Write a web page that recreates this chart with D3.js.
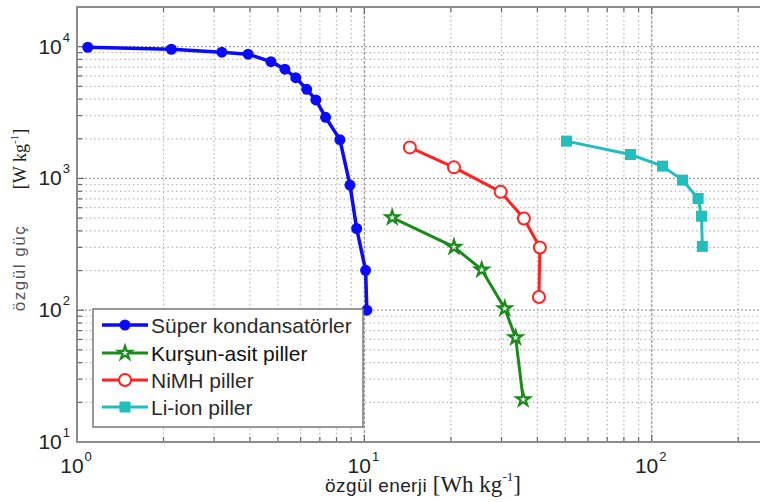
<!DOCTYPE html>
<html>
<head>
<meta charset="utf-8">
<script src="https://cdn.jsdelivr.net/npm/d3@7/dist/d3.min.js"></script>
<style>
  html, body { margin: 0; padding: 0; background: #fff; }
  svg { display: block; }
</style>
</head>
<body>
<div id="chart"></div>
<script>
// Ragone plot: specific power vs specific energy (log-log)
var seriesNames = ["Süper kondansatörler", "Kurşun-asit piller", "NiMH piller", "Li-ion piller"];

var superEnergy = [1.09, 2.13, 3.19, 3.94, 4.73, 5.29, 5.77, 6.30, 6.78, 7.33, 8.22, 8.91, 9.40, 10.1, 10.2];
var superPower  = [9900, 9560, 9080, 8770, 7700, 6750, 5820, 4750, 3940, 2910, 1970, 890, 417, 201, 100];

var leadEnergy = [12.5, 20.5, 25.6, 30.8, 33.6, 35.7];
var leadPower  = [505, 302, 203, 103, 62, 21];

var nimhEnergy = [14.4, 20.5, 29.8, 35.9, 40.8, 40.5];
var nimhPower  = [1720, 1214, 791, 496, 299, 126];

var liEnergy = [50.5, 84.3, 109, 128, 145, 149, 150];
var liPower  = [1920, 1520, 1240, 971, 705, 517, 305];

var xDecades = [1, 10, 100];
var yDecades = [10, 100, 1000, 10000];

var width = 760, height = 502;
// note: "top" is a read-only window property, so use a margin object
var box = { left: 77, right: 761, top: 7, bottom: 442 };

var x = d3.scaleLog().domain([1, 240]).range([box.left, box.right]);
var y = d3.scaleLog().domain([10, 20000]).range([box.bottom, box.top]);

var svg = d3.select("#chart").append("svg")
    .attr("width", width)
    .attr("height", height)
    .style("font-family", "'Liberation Sans', Arial, sans-serif");

// minor / major tick values
var xMinor = [], yMinor = [];
xDecades.forEach(function (d) {
    for (var k = 2; k <= 9; k++) if (d * k < 240) xMinor.push(d * k);
});
yDecades.forEach(function (d) {
    for (var k = 2; k <= 9; k++) if (d * k < 20000) yMinor.push(d * k);
});

var grid = svg.append("g").attr("class", "grid");

grid.selectAll("line.xminor").data(xMinor).enter().append("line")
    .attr("x1", function (d) { return x(d); })
    .attr("x2", function (d) { return x(d); })
    .attr("y1", box.top).attr("y2", box.bottom)
    .attr("stroke", "#b5b5b5").attr("stroke-width", 1.2)
    .attr("stroke-dasharray", "1.5,2.8");

grid.selectAll("line.yminor").data(yMinor).enter().append("line")
    .attr("y1", function (d) { return y(d); })
    .attr("y2", function (d) { return y(d); })
    .attr("x1", box.left).attr("x2", box.right)
    .attr("stroke", "#b5b5b5").attr("stroke-width", 1.2)
    .attr("stroke-dasharray", "1.5,2.8");

grid.selectAll("line.xmajor").data(xDecades.slice(1)).enter().append("line")
    .attr("x1", function (d) { return x(d); })
    .attr("x2", function (d) { return x(d); })
    .attr("y1", box.top).attr("y2", box.bottom)
    .attr("stroke", "#9a9a9a").attr("stroke-width", 1.3)
    .attr("stroke-dasharray", "3,1.5");

grid.selectAll("line.ymajor").data(yDecades.slice(1)).enter().append("line")
    .attr("y1", function (d) { return y(d); })
    .attr("y2", function (d) { return y(d); })
    .attr("x1", box.left).attr("x2", box.right)
    .attr("stroke", "#a0a0a0").attr("stroke-width", 1.2)
    .attr("stroke-dasharray", "2,2");

// ticks (inward, box on)
var ticks = svg.append("g").attr("stroke", "#666").attr("stroke-width", 1.2);
xMinor.concat(xDecades).forEach(function (d) {
    var len = xDecades.indexOf(d) >= 0 ? 7 : 5;
    ticks.append("line").attr("x1", x(d)).attr("x2", x(d)).attr("y1", box.bottom).attr("y2", box.bottom - len);
    ticks.append("line").attr("x1", x(d)).attr("x2", x(d)).attr("y1", box.top).attr("y2", box.top + len);
});
yMinor.concat(yDecades).forEach(function (d) {
    var len = yDecades.indexOf(d) >= 0 ? 7 : 5;
    ticks.append("line").attr("y1", y(d)).attr("y2", y(d)).attr("x1", box.left).attr("x2", box.left + len);
});

// box
svg.append("rect")
    .attr("x", box.left).attr("y", box.top)
    .attr("width", box.right - box.left).attr("height", box.bottom - box.top)
    .attr("fill", "none").attr("stroke", "#8c8c8c").attr("stroke-width", 2);

// tick labels
function expLabel(sel, d) {
    var e = Math.round(Math.log10(d));
    sel.append("tspan").text("10");
    sel.append("tspan").attr("font-size", 13).attr("dy", -12).attr("dx", 1).text(e);
}

xDecades.forEach(function (d) {
    var t = svg.append("text")
        .attr("x", x(d) - 1).attr("y", box.bottom + 31)
        .attr("text-anchor", "middle")
        .attr("font-size", 21).attr("fill", "#222");
    expLabel(t, d);
});
yDecades.forEach(function (d) {
    var t = svg.append("text")
        .attr("x", 70).attr("y", y(d) + 7)
        .attr("text-anchor", "end")
        .attr("font-size", 21).attr("fill", "#222");
    expLabel(t, d);
});

// axis titles
var serif = "'Liberation Serif', 'Times New Roman', serif";
var xt = svg.append("text")
    .attr("x", 423).attr("y", 492)
    .attr("text-anchor", "middle")
    .attr("fill", "#222");
xt.append("tspan").attr("font-size", 19).attr("letter-spacing", 0.4).text("özgül enerji ");
xt.append("tspan").attr("font-family", serif).attr("font-size", 23).text("[Wh kg");
xt.append("tspan").attr("font-family", serif).attr("font-size", 13).attr("dy", -11).text("-1");
xt.append("tspan").attr("font-family", serif).attr("font-size", 23).attr("dy", 11).text("]");

svg.append("text")
    .attr("transform", "translate(25,268) rotate(-90)")
    .attr("text-anchor", "middle")
    .attr("font-size", 17).attr("fill", "#555")
    .style("letter-spacing", "1.5px")
    .text("özgül güç");

var yt = svg.append("text")
    .attr("transform", "translate(26,159) rotate(-90)")
    .attr("text-anchor", "middle")
    .attr("font-family", serif).attr("fill", "#222");
yt.append("tspan").attr("font-size", 18).text("[W kg");
yt.append("tspan").attr("font-size", 11).attr("dy", -8).text("-1");
yt.append("tspan").attr("font-size", 18).attr("dy", 8).text("]");

// series
var series = [
    { name: seriesNames[0], xs: superEnergy, ys: superPower, color: "#0a0aff", width: 3.5, marker: "dot" },
    { name: seriesNames[1], xs: leadEnergy, ys: leadPower, color: "#1a8a1a", width: 3, marker: "star" },
    { name: seriesNames[2], xs: nimhEnergy, ys: nimhPower, color: "#ff2222", width: 3, marker: "circle" },
    { name: seriesNames[3], xs: liEnergy, ys: liPower, color: "#22bdbd", width: 3, marker: "square" }
];

var line = d3.line()
    .x(function (d) { return x(d[0]); })
    .y(function (d) { return y(d[1]); });

function drawMarker(g, s, cx, cy) {
    if (s.marker === "dot") {
        g.append("circle").attr("cx", cx).attr("cy", cy).attr("r", 5.5).attr("fill", s.color);
    } else if (s.marker === "circle") {
        g.append("circle").attr("cx", cx).attr("cy", cy).attr("r", 6)
            .attr("fill", "#fff").attr("stroke", s.color).attr("stroke-width", 2);
    } else if (s.marker === "square") {
        g.append("rect").attr("x", cx - 5.5).attr("y", cy - 5.5).attr("width", 11).attr("height", 11)
            .attr("fill", s.color);
    } else {
        g.append("path").attr("d", d3.symbol().type(d3.symbolStar).size(55)())
            .attr("transform", "translate(" + cx + "," + cy + ")")
            .attr("fill", "#e8f5e8").attr("stroke", s.color).attr("stroke-width", 2.2);
    }
}

var plot = svg.append("g").attr("class", "series");
series.forEach(function (s) {
    var pts = s.xs.map(function (v, i) { return [v, s.ys[i]]; });
    var g = plot.append("g");
    g.append("path")
        .attr("d", line(pts))
        .attr("fill", "none")
        .attr("stroke", s.color)
        .attr("stroke-width", s.width)
        .attr("stroke-linejoin", "round");
    pts.forEach(function (p) {
        drawMarker(g, s, x(p[0]), y(p[1]));
    });
});

// legend
var legend = svg.append("g").attr("class", "legend");
legend.append("rect")
    .attr("x", 93).attr("y", 309).attr("width", 270).attr("height", 118)
    .attr("fill", "#fff").attr("stroke", "#777").attr("stroke-width", 1.5);

var rowY = [325, 353, 380, 407];
series.forEach(function (s, i) {
    var cy = rowY[i];
    legend.append("line")
        .attr("x1", 102).attr("x2", 148).attr("y1", cy).attr("y2", cy)
        .attr("stroke", s.color).attr("stroke-width", s.width);
    drawMarker(legend, s, 125, cy);
    legend.append("text")
        .attr("x", 151).attr("y", cy + 7.5)
        .attr("font-size", 21)
        .attr("fill", i === 1 ? "#111" : "#2a2a2a")
        .text(s.name);
});
</script>
</body>
</html>
